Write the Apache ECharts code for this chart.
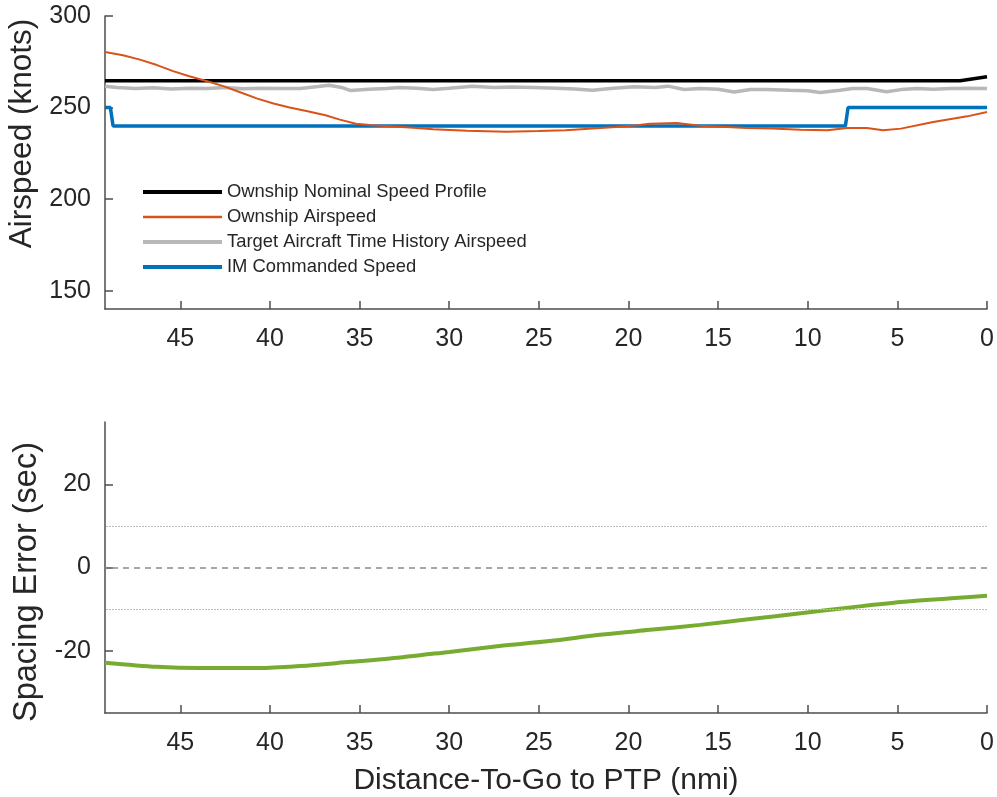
<!DOCTYPE html>
<html><head><meta charset="utf-8">
<script src="https://cdn.jsdelivr.net/npm/echarts@6/dist/echarts.min.js"></script>
<style>html,body{margin:0;padding:0;background:#fff}#c{width:997px;height:797px}</style>
</head><body><div id="c"></div>
<script>
// ---- data ----
const xTicks = [0, 5, 10, 15, 20, 25, 30, 35, 40, 45];
const airspeedTicks = [150, 200, 250, 300];
const spacingTicks = [-20, 0, 20];
const toleranceLevels = [10, -10];
const zeroLevel = [0];

const nominalDist = [49.2, 1.5, 0];
const nominalSpeed = [264.6, 264.6, 266.8];

const ownDist = [49.2, 48.2, 47.3, 46.3, 45.4, 44.5, 43.5, 42.6, 41.7, 40.7, 39.8, 38.9, 37.9, 36.9, 36.1, 35.2, 34.3, 33.3, 32, 30.9, 29, 26.8, 25, 23.5, 22, 20.7, 19.5, 18.8, 17.3, 16, 14.5, 13.4, 12, 10.4, 8.9, 7.8, 6.7, 5.8, 4.8, 3, 1.1, 0];
const ownSpeed = [280.4, 278.6, 276.3, 273.2, 269.9, 267.1, 264.4, 261.7, 258.5, 254.9, 252.2, 250, 248, 245.8, 243.4, 241.2, 240.3, 239.8, 239, 238.1, 237.3, 236.8, 237.2, 237.6, 238.6, 239.4, 240.3, 241.2, 241.6, 240.1, 239.4, 238.8, 238.6, 237.9, 237.6, 238.8, 238.8, 237.6, 238.5, 242.1, 245.2, 247.6];

const targetDist = [49.2, 48.5, 47.5, 46.5, 45.5, 44.5, 43.5, 42.5, 41.5, 40.5, 39.5, 38.3, 37.3, 36.7, 36.0, 35.5, 34.5, 33.5, 32.8, 31.8, 30.9, 30, 28.7, 27.5, 26.5, 25.3, 24, 23, 22, 21, 19.7, 18.5, 17.8, 16.9, 16, 15, 14.1, 13.2, 12.3, 11, 10, 9.3, 8.2, 7.5, 6.7, 5.6, 4.8, 3.9, 3, 2.05, 1, 0];
const targetSpeed = [261.6, 261.0, 260.4, 260.8, 260.2, 260.6, 260.4, 260.9, 260.3, 260.6, 260.4, 260.4, 261.5, 262.2, 261.0, 259.3, 260.0, 260.4, 261.0, 260.5, 259.9, 260.6, 261.7, 261.0, 261.2, 261.0, 260.6, 260.2, 259.5, 260.4, 261.3, 261.0, 261.7, 259.9, 260.4, 260.0, 258.5, 259.9, 259.9, 259.5, 259.2, 258.2, 259.5, 260.4, 260.4, 258.6, 259.8, 260.4, 260.0, 260.4, 260.6, 260.4];

const imDist = [49.2, 48.9, 48.75, 7.9, 7.75, 0];
const imSpeed = [250, 250, 240, 240, 250, 250];

const errDist = [49.2, 46.3, 43.9, 40.6, 38.3, 35.5, 33.3, 30, 27.2, 24.4, 21.6, 18.8, 16, 13.2, 10.4, 7.6, 4.8, 2, 0];
const errSec = [-22.9, -23.9, -24.2, -24.2, -23.7, -22.7, -21.9, -20.3, -18.9, -17.7, -16.2, -15.0, -13.8, -12.4, -11.0, -9.6, -8.3, -7.4, -6.8];

const seriesNames = ['Ownship Nominal Speed Profile', 'Ownship Airspeed', 'Target Aircraft Time History Airspeed', 'IM Commanded Speed'];

// ---- chart ----
const zip = (a, b) => a.map((v, i) => [v, b[i]]);
const FONT = "'Liberation Sans', Arial, Helvetica, sans-serif";
const TXT = '#262626';
const AX = '#4d4d4d';
const COLORS = ['#000000', '#D95319', '#b8b8b8', '#0072BD'];
const WIDTHS = [3.5, 2, 3.5, 3.5];

function xAxisCfg(gridIndex, name) {
  return {
    type: 'value', gridIndex, inverse: true, min: 0, max: 49.2,
    name: name || '', nameLocation: 'middle', nameGap: 53,
    nameTextStyle: { fontFamily: FONT, fontSize: 30, color: TXT },
    axisLine: { show: true, onZero: false, lineStyle: { color: AX, width: 1.5 } },
    axisTick: { show: true, inside: true, length: 8, customValues: xTicks, lineStyle: { color: AX, width: 1.5 } },
    axisLabel: { customValues: xTicks, margin: 18, fontFamily: FONT, fontSize: 25, color: TXT },
    splitLine: { show: false }
  };
}
function yAxisCfg(gridIndex, name, min, max, ticks, pad, fs, gap) {
  return {
    type: 'value', gridIndex, min, max,
    name, nameLocation: 'middle', nameGap: gap, nameRotate: 90,
    nameTextStyle: { fontFamily: FONT, fontSize: fs, color: TXT, padding: pad },
    axisLine: { show: true, onZero: false, lineStyle: { color: AX, width: 1.5 } },
    axisTick: { show: true, inside: true, length: 8, customValues: ticks, lineStyle: { color: AX, width: 1.5 } },
    axisLabel: { customValues: ticks, margin: 14, fontFamily: FONT, fontSize: 25, color: TXT },
    splitLine: { show: false }
  };
}

const chart = echarts.init(document.getElementById('c'), null, { renderer: 'canvas' });
chart.setOption({
  animation: false,
  backgroundColor: '#fff',
  grid: [
    { left: 105, right: 10, top: 16, height: 293, containLabel: false, outerBoundsMode: 'none' },
    { left: 105, right: 10, top: 422, height: 291, containLabel: false, outerBoundsMode: 'none' }
  ],
  xAxis: [xAxisCfg(0), xAxisCfg(1, 'Distance-To-Go to PTP (nmi)')],
  yAxis: [
    yAxisCfg(0, 'Airspeed (knots)', 140, 300, airspeedTicks, [0, 0, 0, 58], 31.5, 62),
    yAxisCfg(1, 'Spacing Error (sec)', -35, 35, spacingTicks, [0, 29, 0, 0], 32.5, 59)
  ],
  legend: {
    data: seriesNames.map((n, i) => ({ name: n, lineStyle: { color: COLORS[i], width: WIDTHS[i] + 0.5 }, itemStyle: { opacity: 0 } })),
    orient: 'vertical', left: 141, top: 183, padding: 0,
    itemWidth: 79, itemHeight: 14, itemGap: 7,
    itemStyle: { opacity: 0 },
    textStyle: { fontFamily: FONT, fontSize: 18.4, color: TXT },
    selectedMode: false
  },
  series: [
    { name: seriesNames[0], type: 'line', xAxisIndex: 0, yAxisIndex: 0, data: zip(nominalDist, nominalSpeed),
      showSymbol: false, symbol: 'none', lineStyle: { color: COLORS[0], width: WIDTHS[0] }, itemStyle: { color: COLORS[0] }, z: 3 },
    { name: seriesNames[2], type: 'line', xAxisIndex: 0, yAxisIndex: 0, data: zip(targetDist, targetSpeed),
      showSymbol: false, symbol: 'none', lineStyle: { color: COLORS[2], width: WIDTHS[2] }, itemStyle: { color: COLORS[2] }, z: 2 },
    { name: seriesNames[3], type: 'line', xAxisIndex: 0, yAxisIndex: 0, data: zip(imDist, imSpeed),
      showSymbol: false, symbol: 'none', lineStyle: { color: COLORS[3], width: WIDTHS[3] }, itemStyle: { color: COLORS[3] }, z: 3 },
    { name: seriesNames[1], type: 'line', xAxisIndex: 0, yAxisIndex: 0, data: zip(ownDist, ownSpeed),
      showSymbol: false, symbol: 'none', lineStyle: { color: COLORS[1], width: WIDTHS[1] }, itemStyle: { color: COLORS[1] }, z: 4 },
    { name: 'Spacing Error', type: 'line', xAxisIndex: 1, yAxisIndex: 1, data: zip(errDist, errSec),
      showSymbol: false, symbol: 'none', smooth: 0.3, lineStyle: { color: '#77AC30', width: 4 }, z: 4,
      markLine: {
        silent: true, symbol: 'none', label: { show: false },
        data: toleranceLevels.map(v => ({ yAxis: v, lineStyle: { color: '#bdbdbd', type: [2, 1], width: 1.2 } }))
          .concat(zeroLevel.map(v => ({ yAxis: v, lineStyle: { color: '#8a8a8a', type: [6, 5], width: 1.5 } })))
      } }
  ]
});
</script>
</body></html>
